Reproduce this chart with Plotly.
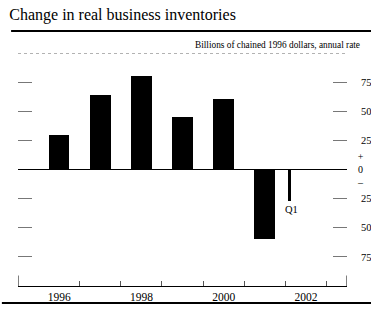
import plotly.graph_objects as go

# Data
years = [1996, 1997, 1998, 1999, 2000, 2001]
values = [30, 64, 80, 45, 60.5, -60]
q1_x = [2001.6]
q1_val = [-27]
q1_label = "Q1"
year_ticks = [1996, 1998, 2000, 2002]
year_text = ["1996", "1998", "2000", "2002"]
y_tickvals = [75, 50, 25, -25, -50, -75]
y_ticktext = ["75", "50", "25", "25", "50", "75"]
title_text = "Change in real business inventories"
subtitle_text = "Billions of chained 1996 dollars, annual rate"

SERIF = "Liberation Serif, Times New Roman, serif"

fig = go.Figure()
fig.add_trace(go.Bar(x=years, y=values, width=0.5, marker=dict(color="black", line=dict(width=0)),
                     showlegend=False, hoverinfo="skip"))
fig.add_trace(go.Bar(x=q1_x, y=q1_val, width=0.06, marker=dict(color="black", line=dict(width=0)),
                     showlegend=False, hoverinfo="skip"))
# invisible trace to activate secondary axes
fig.add_trace(go.Scatter(x=[1996], y=[0], xaxis="x2", yaxis="y2", mode="markers",
                         marker=dict(opacity=0), showlegend=False, hoverinfo="skip"))

fig.update_layout(
    width=371, height=310,
    margin=dict(l=18, r=24, t=53, b=24, autoexpand=False),
    paper_bgcolor="white", plot_bgcolor="white",
    font=dict(family=SERIF, color="black"),
    title=dict(text=title_text, xref="container", yref="container", x=0.025, xanchor="left",
               y=1 - 14 / 310, yanchor="middle", font=dict(family=SERIF, size=16, color="black")),
    xaxis=dict(range=[1995, 2003], showgrid=False, zeroline=False, showline=True, linecolor="black",
               linewidth=1, tickmode="array", tickvals=[1996.5 + i for i in range(7)],
               ticks="inside", ticklen=5, tickcolor="#555", tickwidth=1, showticklabels=False,
               automargin=False),
    xaxis2=dict(range=[1995, 2003], overlaying="x", side="bottom", showgrid=False, zeroline=False,
                showline=False, tickmode="array", tickvals=year_ticks, ticktext=year_text, ticks="",
                tickfont=dict(family=SERIF, size=11.5, color="black"), ticklabelstandoff=2,
                automargin=False),
    yaxis=dict(range=[-100, 100], showgrid=False, zeroline=True, zerolinecolor="black",
               zerolinewidth=1, showline=False, tickmode="array", tickvals=y_tickvals,
               ticks="inside", ticklen=14, tickcolor="#777", tickwidth=1, showticklabels=False,
               automargin=False),
    yaxis2=dict(range=[-100, 100], overlaying="y", side="right", showgrid=False, zeroline=False,
                showline=False, tickmode="array", tickvals=y_tickvals, ticktext=y_ticktext,
                ticks="inside", ticklen=14, tickcolor="#777", tickwidth=1,
                tickfont=dict(family=SERIF, size=10.5, color="black"), ticklabelstandoff=13,
                automargin=False),
    bargap=0,
)

shapes = [
    # top thick rule
    dict(type="line", xref="paper", yref="paper", x0=-0.021, x1=1.073, y0=1.094, y1=1.094,
         line=dict(color="black", width=2)),
    # bottom thick rule
    dict(type="line", xref="paper", yref="paper", x0=-0.049, x1=1.073, y0=-0.073, y1=-0.073,
         line=dict(color="black", width=2)),
    # dotted top of plot area
    dict(type="line", xref="paper", yref="y", x0=0, x1=1, y0=100, y1=100,
         line=dict(color="#666", width=1, dash="dot")),
    # end ticks on x axis
    dict(type="line", xref="x", yref="y", x0=1995, x1=1995, y0=-100, y1=-91,
         line=dict(color="black", width=1)),
    dict(type="line", xref="x", yref="y", x0=2003, x1=2003, y0=-100, y1=-91,
         line=dict(color="black", width=1)),
]
fig.update_layout(shapes=shapes)

fig.add_annotation(text=subtitle_text, xref="paper", yref="paper", x=1.0456, y=1.034,
                   xanchor="right", yanchor="middle", showarrow=False,
                   font=dict(family=SERIF, size=9.3, color="black"))
fig.add_annotation(text=q1_label, xref="x", yref="y", x=q1_x[0] + 0.04, y=q1_val[0] - 7,
                   xanchor="center", yanchor="middle", showarrow=False,
                   font=dict(family=SERIF, size=10.5, color="black"))
fig.add_annotation(text="+<br>0<br>\u2013", xref="paper", yref="y", x=1, xshift=13, y=0,
                   xanchor="center", yanchor="middle", showarrow=False,
                   font=dict(family=SERIF, size=10, color="black"))

fig.write_html("out.html", config={"displayModeBar": False},
               post_script="document.body.style.margin='0';document.body.style.overflow='hidden';")
